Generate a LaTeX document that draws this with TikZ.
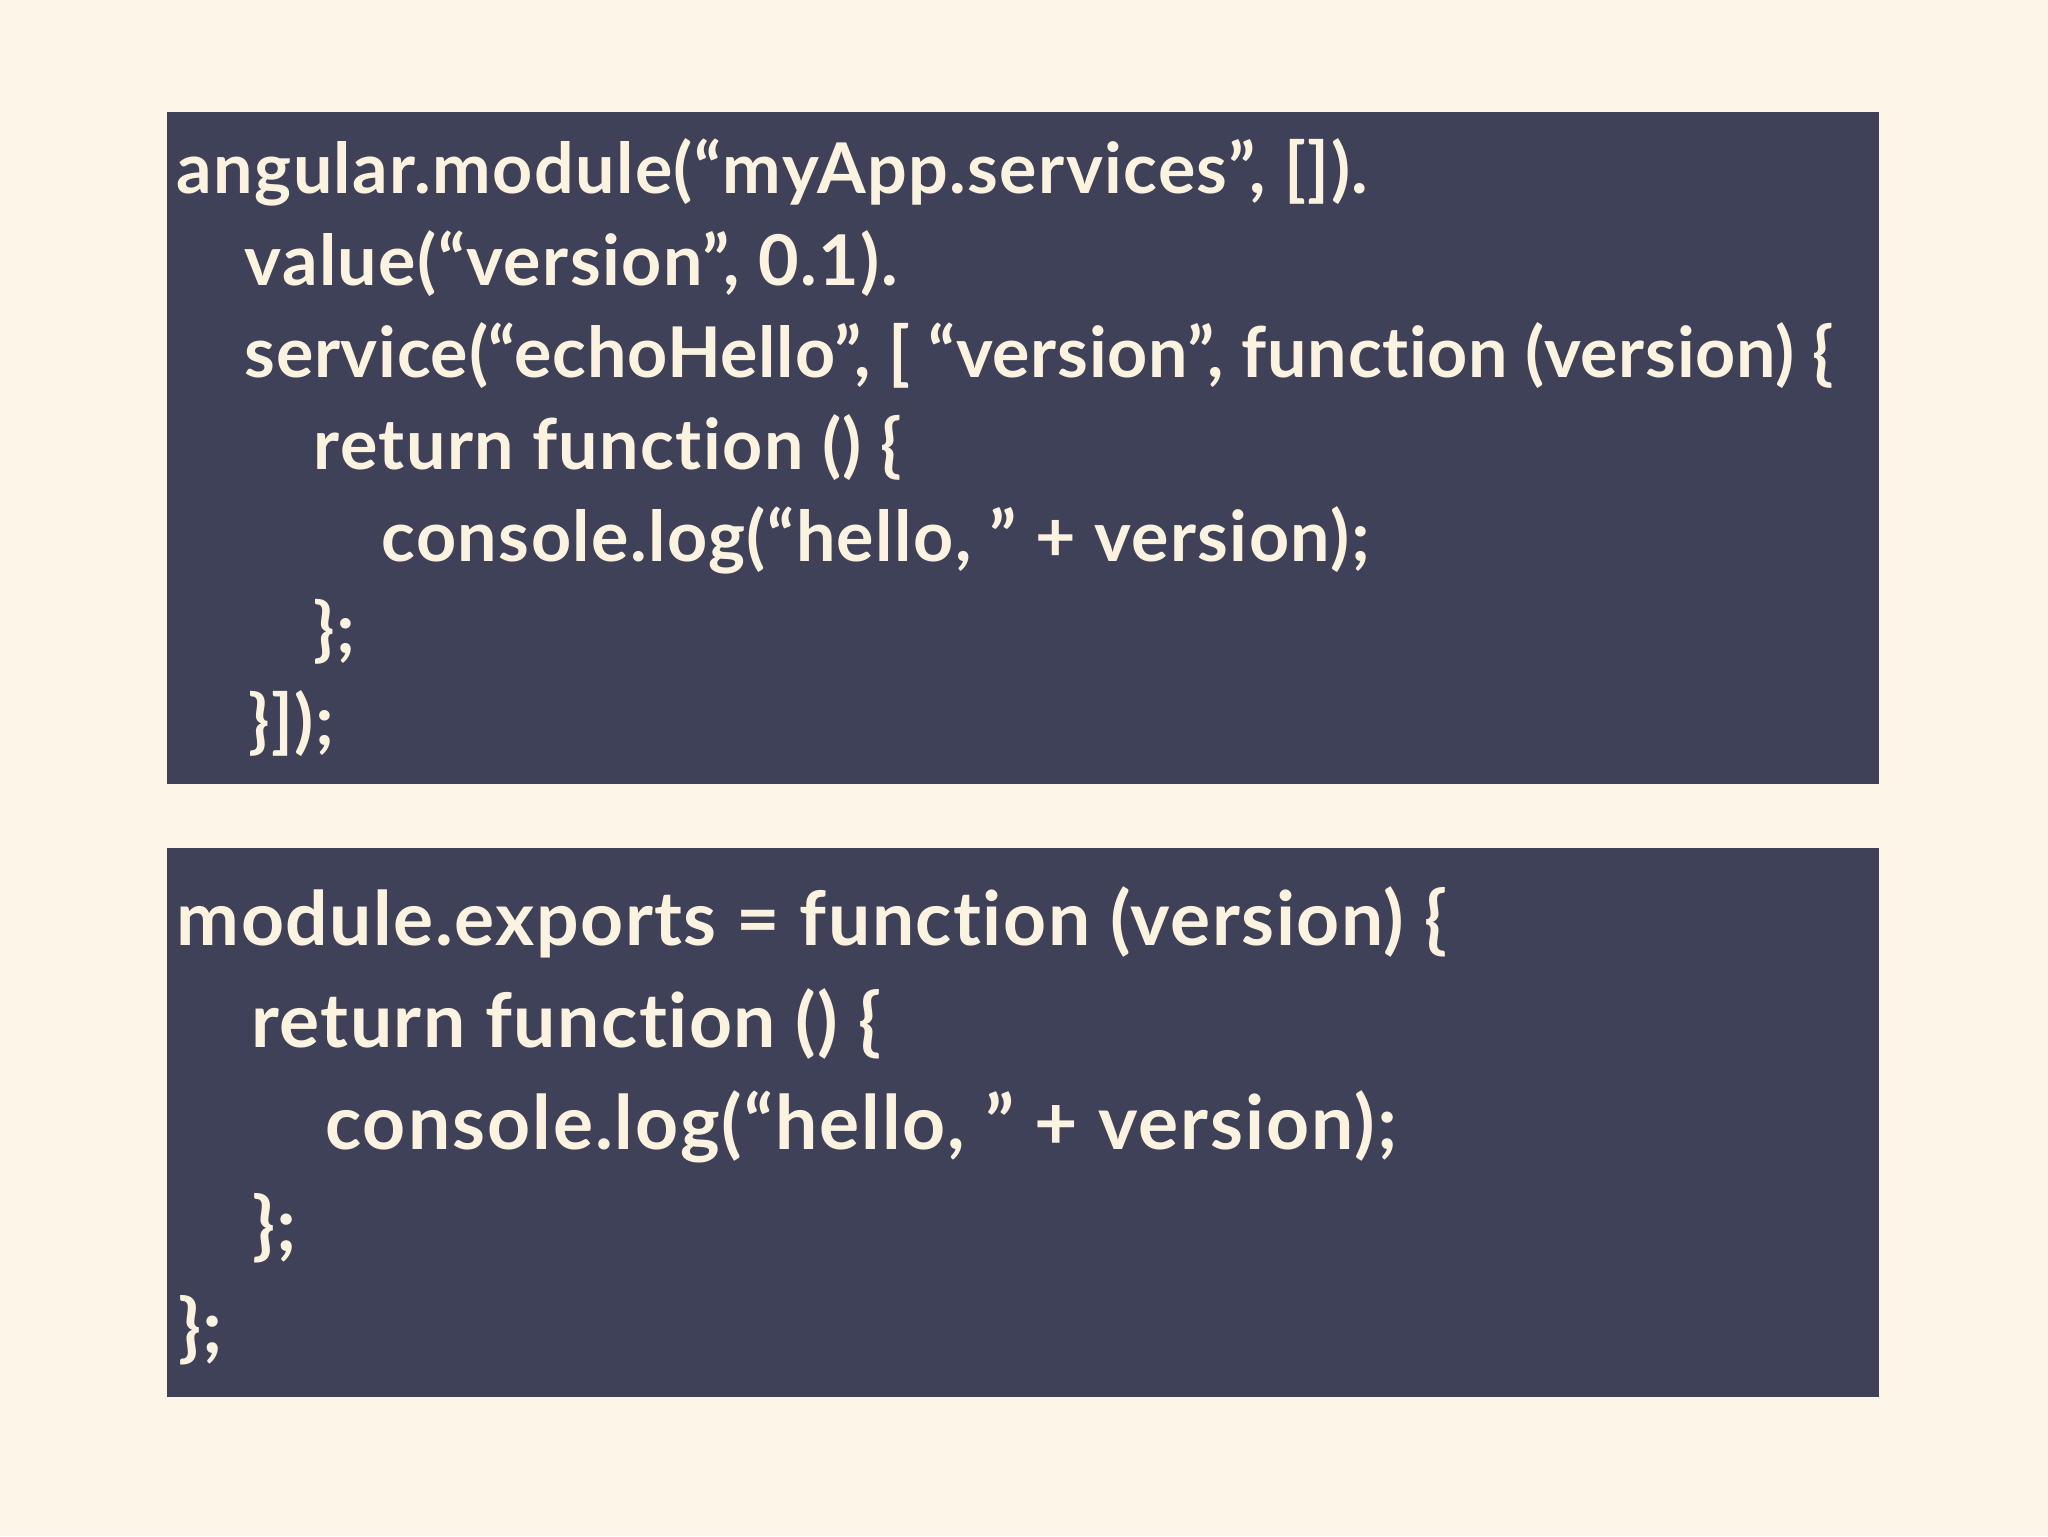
\documentclass[tikz,border=0pt]{standalone}
\usepackage{fontspec}
\setmainfont{Lato}[Ligatures=NoCommon, LetterSpace=2]
\definecolor{bgcream}{HTML}{FDF5E7}
\definecolor{boxnavy}{HTML}{3F4159}
\definecolor{txtcream}{HTML}{FBF3E0}
\tikzset{
  codebox/.style={fill=boxnavy, draw=none},
  codeA/.style={anchor=base west, inner sep=0pt, text=txtcream, font=\fontsize{35}{42}\selectfont\bfseries},
  codeB/.style={anchor=base west, inner sep=0pt, text=txtcream, font=\fontsize{37.5}{45}\selectfont\bfseries},
}
\begin{document}
\begin{tikzpicture}[x=1pt,y=1pt]
\fill[bgcream] (0,0) rectangle (1024,768);
\useasboundingbox (0,0) rectangle (1024,768);
\fill[codebox] (83.6,376.2) rectangle (939.7,711.8);
\fill[codebox] (83.6,69.3) rectangle (939.7,344.2);
% box 1
\node[codeA] (a1) at (88.2,671.4) {angular.module(“myApp.services”, []).};
\node[codeA] (a2) at (122.1,625.3) {value(“version”, 0.1).};
\node[codeA] (a3) at (122.1,579.3) {\addfontfeature{LetterSpace=1}service(“echoHello”, [ “version”, function (version) \{};
\node[codeA] (a4) at (156.7,533.2) {return function () \{};
\node[codeA] (a5) at (190.7,487.2) {console.log(“hello, ” + version);};
\node[codeA] (a6) at (156.7,441.2) {\};};
\node[codeA] (a7) at (124.1,395.1) {\}]);};
% box 2
\node[codeB] (b1) at (88.2,295.2) {module.exports = function (version) \{};
\node[codeB] (b2) at (125.4,244.3) {return function () \{};
\node[codeB] (b3) at (162.6,193.4) {\addfontfeature{LetterSpace=2.6}console.log(“hello, ” + version);};
\node[codeB] (b4) at (126.0,142.4) {\};};
\node[codeB] (b5) at (88.8,91.5) {\};};
\end{tikzpicture}
\end{document}
